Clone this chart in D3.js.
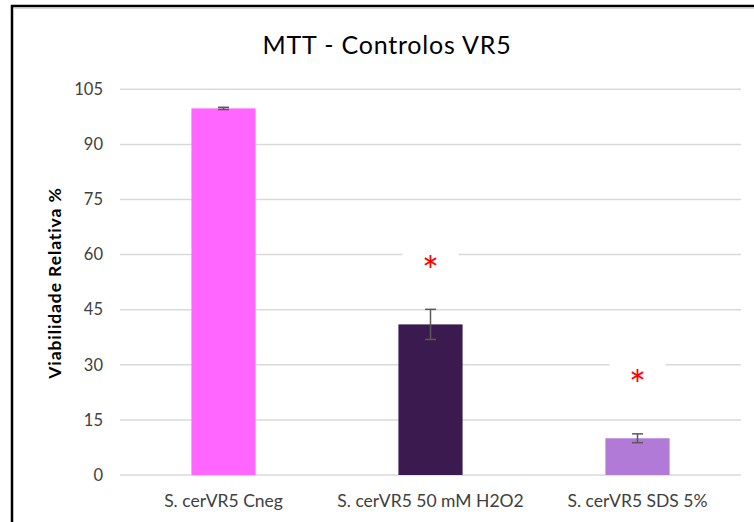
<!DOCTYPE html>
<html>
<head>
<meta charset="utf-8">
<script src="https://cdn.jsdelivr.net/npm/d3@7"></script>
<style>
  body { margin: 0; background: #fff; }
  text { font-family: Lato, "Open Sans", sans-serif; fill: #404040; }
</style>
</head>
<body>
<div id="chart"></div>
<script>
/*
 * Data
 */
const categories = ['S. cerVR5 Cneg', 'S. cerVR5 50 mM H2O2', 'S. cerVR5 SDS 5%']
const values = [99.8, 41.0, 10.0]
const errors = [0.3, 4.1, 1.2]
const barColors = ['#ff66ff', '#3b1a4f', '#b07ad6']
const marks = ['', '*', '*']
const markAt = [null, 58, 27]
const yTicks = [0, 15, 30, 45, 60, 75, 90, 105]

const w = 754
const h = 522
const margin = { top: 89.3, right: 13, bottom: 47, left: 120 }

const svg = d3.select('#chart')
  .append('svg')
  .attr('width', w)
  .attr('height', h)

// chart border (only left + top are visible in the crop)
svg.append('path')
  .attr('d', `M12,${h} V6 H${w}`)
  .attr('fill', 'none')
  .attr('stroke', '#000')
  .attr('stroke-width', 2.5)
svg.append('line')
  .attr('x1', 13.5).attr('x2', w)
  .attr('y1', 8.5).attr('y2', 8.5)
  .attr('stroke', '#d9d9d9')
  .attr('stroke-width', 1)

const x = d3.scaleBand()
  .domain(categories)
  .range([margin.left, w - margin.right])
  .padding(0)

const y = d3.scaleLinear()
  .domain([0, 105])
  .range([475, margin.top])

const barW = x.bandwidth() * 0.31

// title
svg.append('text')
  .attr('x', 387)
  .attr('y', 54)
  .attr('text-anchor', 'middle')
  .style('font-size', '25px')
  .style('letter-spacing', '0.8px')
  .style('fill', '#000')
  .text('MTT - Controlos VR5')

// gridlines
svg.append('g')
  .attr('id', 'grid')
  .selectAll('line')
  .data(yTicks)
  .enter()
  .append('line')
  .attr('x1', x.range()[0])
  .attr('x2', x.range()[1])
  .attr('y1', d => y(d))
  .attr('y2', d => y(d))
  .attr('stroke', '#d9d9d9')
  .attr('stroke-width', 1.5)

// y axis labels
const yAxis = svg.append('g')
  .attr('transform', `translate(${margin.left - 17},0)`)
  .call(d3.axisLeft(y).tickValues(yTicks).tickSize(0).tickPadding(0))
yAxis.select('.domain').remove()
yAxis.selectAll('text')
  .attr('font-family', null)
  .style('font-size', '16.5px')
  .style('fill', '#404040')

// x axis labels
const xAxis = svg.append('g')
  .attr('transform', `translate(0,${y(0)})`)
  .call(d3.axisBottom(x).tickSize(0).tickPadding(20))
xAxis.select('.domain').remove()
xAxis.selectAll('text')
  .attr('font-family', null)
  .style('font-size', '17.5px')
  .style('fill', '#404040')

// y axis title
svg.append('text')
  .attr('transform', 'translate(61,283) rotate(-90)')
  .attr('text-anchor', 'middle')
  .style('font-size', '17.5px')
  .style('letter-spacing', '0.9px')
  .style('font-weight', 'bold')
  .style('fill', '#000')
  .text('Viabilidade Relativa %')

// bars
svg.append('g')
  .attr('id', 'bars')
  .selectAll('rect')
  .data(categories)
  .enter()
  .append('rect')
  .attr('x', d => x(d) + x.bandwidth() / 2 - barW / 2)
  .attr('width', barW)
  .attr('y', (d, i) => y(values[i]))
  .attr('height', (d, i) => y(0) - y(values[i]))
  .attr('fill', (d, i) => barColors[i])

// error bars
const err = svg.append('g')
  .attr('id', 'errors')
  .selectAll('g')
  .data(categories)
  .enter()
  .append('g')
  .attr('stroke', '#595959')
  .attr('stroke-width', 1.5)

err.append('line')
  .attr('x1', d => x(d) + x.bandwidth() / 2)
  .attr('x2', d => x(d) + x.bandwidth() / 2)
  .attr('y1', (d, i) => y(values[i] + errors[i]))
  .attr('y2', (d, i) => y(values[i] - errors[i]))
err.selectAll('.cap')
  .data((d, i) => [[d, values[i] + errors[i]], [d, values[i] - errors[i]]])
  .enter()
  .append('line')
  .attr('class', 'cap')
  .attr('x1', d => x(d[0]) + x.bandwidth() / 2 - 5.5)
  .attr('x2', d => x(d[0]) + x.bandwidth() / 2 + 5.5)
  .attr('y1', d => y(d[1]))
  .attr('y2', d => y(d[1]))

// significance marks with white label box
const sig = svg.append('g')
  .attr('id', 'marks')
  .selectAll('g')
  .data(categories.filter((d, i) => marks[i]))
  .enter()
  .append('g')
  .attr('transform', d => {
    const i = categories.indexOf(d)
    return `translate(${x(d) + x.bandwidth() / 2},${y(markAt[i])})`
  })

sig.append('rect')
  .attr('x', -28)
  .attr('y', -17)
  .attr('width', 56)
  .attr('height', 34)
  .attr('fill', '#fff')

sig.append('text')
  .attr('text-anchor', 'middle')
  .attr('y', 24)
  .style('font-size', '40px')
  .style('fill', '#ff0000')
  .text(d => marks[categories.indexOf(d)])
</script>
</body>
</html>
